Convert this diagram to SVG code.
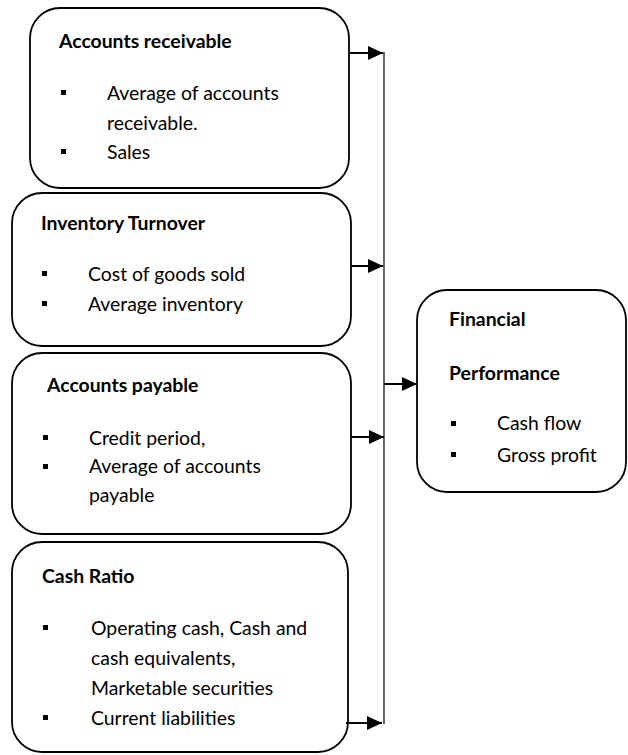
<svg xmlns="http://www.w3.org/2000/svg" width="628" height="755" viewBox="0 0 628 755">
<style>
.box{fill:#fff;stroke:#000;stroke-width:1.8}
.t{font-family:Lato,"Open Sans",sans-serif;font-size:19.4px;fill:#000}
.h{font-weight:bold}
.b{fill:#000}
.bus{stroke:#555;stroke-width:1.8;fill:none}
.c{stroke:#000;stroke-width:2;fill:none}
</style>
<defs>
<marker id="ah" markerWidth="15" markerHeight="14" refX="15" refY="7" orient="auto" markerUnits="userSpaceOnUse">
<path d="M0,0 L15,7 L0,14 Z" fill="#000"/>
</marker>
</defs>
<g id="n1">
<rect class="box" x="30" y="8" width="319" height="180" rx="30" ry="30"/>
<text class="t h" x="59" y="48">Accounts receivable</text>
<rect class="b" x="61" y="90" width="5" height="5"/>
<text class="t" x="107" y="100">Average of accounts</text>
<text class="t" x="107" y="130">receivable.</text>
<rect class="b" x="61" y="149" width="5" height="5"/>
<text class="t" x="107" y="159">Sales</text>
</g>
<g id="n2">
<rect class="box" x="12" y="193" width="339" height="153" rx="30" ry="30"/>
<text class="t h" x="41" y="230">Inventory Turnover</text>
<rect class="b" x="42" y="271" width="5" height="5"/>
<text class="t" x="88" y="281">Cost of goods sold</text>
<rect class="b" x="42" y="301" width="5" height="5"/>
<text class="t" x="88" y="311">Average inventory</text>
</g>
<g id="n3">
<rect class="box" x="12" y="353" width="339" height="181" rx="30" ry="30"/>
<text class="t h" x="47" y="392">Accounts payable</text>
<rect class="b" x="43" y="435" width="5" height="5"/>
<text class="t" x="89" y="445">Credit period,</text>
<rect class="b" x="43" y="464" width="5" height="5"/>
<text class="t" x="89" y="473">Average of accounts</text>
<text class="t" x="89" y="502">payable</text>
</g>
<g id="n4">
<rect class="box" x="12" y="542" width="336" height="210" rx="30" ry="30"/>
<text class="t h" x="42" y="583">Cash Ratio</text>
<rect class="b" x="43" y="625" width="5" height="5"/>
<text class="t" x="91" y="635">Operating cash, Cash and</text>
<text class="t" x="91" y="665">cash equivalents,</text>
<text class="t" x="91" y="695">Marketable securities</text>
<rect class="b" x="43" y="715" width="5" height="5"/>
<text class="t" x="91" y="725">Current liabilities</text>
</g>
<g id="n5">
<rect class="box" x="417" y="290" width="209" height="202" rx="30" ry="30"/>
<text class="t h" x="449" y="326">Financial</text>
<text class="t h" x="449" y="380">Performance</text>
<rect class="b" x="451" y="421" width="5" height="5"/>
<text class="t" x="497" y="430">Cash flow</text>
<rect class="b" x="451" y="452" width="5" height="5"/>
<text class="t" x="497" y="462">Gross profit</text>
</g>
<g id="connectors">
<line class="bus" x1="384" y1="52" x2="384" y2="724"/>
<line class="c" x1="349" y1="53" x2="383" y2="53" marker-end="url(#ah)"/>
<line class="c" x1="351" y1="266" x2="383" y2="266" marker-end="url(#ah)"/>
<line class="c" x1="351" y1="437" x2="384" y2="437" marker-end="url(#ah)"/>
<line class="c" x1="346" y1="723" x2="382" y2="723" marker-end="url(#ah)"/>
<line class="c" x1="384" y1="384" x2="417" y2="384" marker-end="url(#ah)"/>
</g>
</svg>
